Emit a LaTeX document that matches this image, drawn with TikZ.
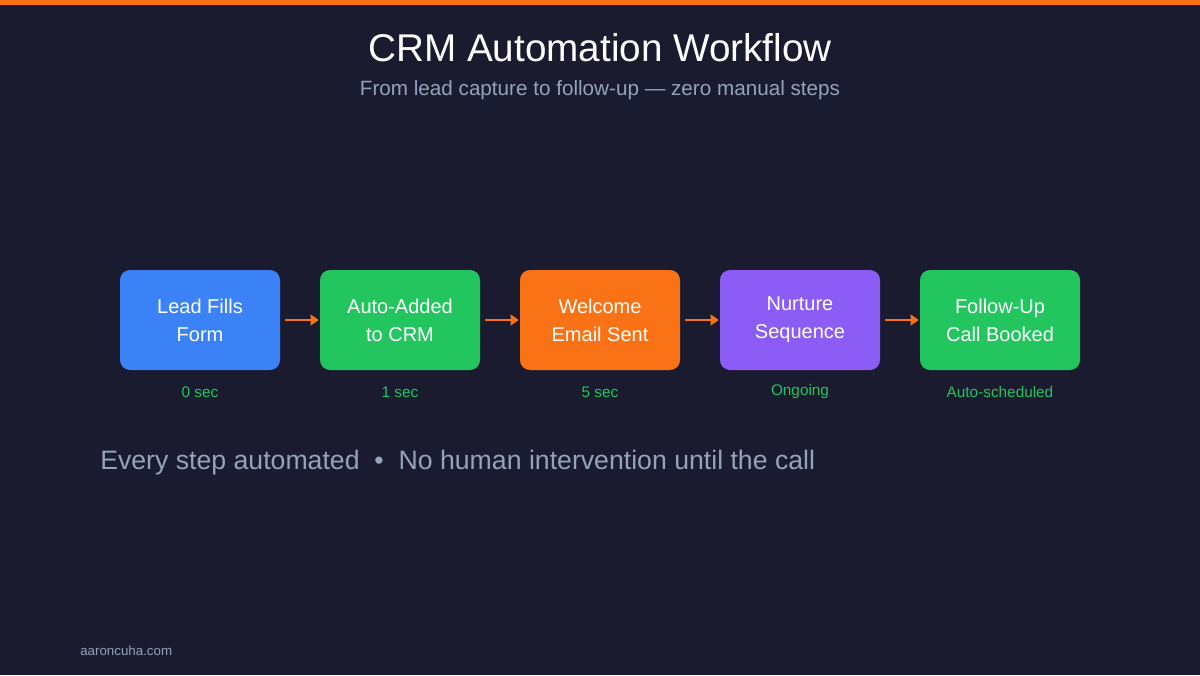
\documentclass[tikz,border=0pt]{standalone}
\usepackage{fontspec}
\setmainfont{Liberation Sans}
\usetikzlibrary{arrows.meta}
\definecolor{bg}{HTML}{1A1B2E}
\definecolor{org}{HTML}{F97316}
\definecolor{blu}{HTML}{3B82F6}
\definecolor{grn}{HTML}{22C55E}
\definecolor{pur}{HTML}{8B5CF6}
\definecolor{sub}{HTML}{94A3B8}
\begin{document}
\begin{tikzpicture}[x=0.75pt,y=-0.75pt,
  box/.style={rounded corners=7.5pt,minimum width=120pt,minimum height=75pt,inner sep=0pt,align=center,text=white,font=\fontsize{15}{21}\selectfont},
  tm/.style={text=grn,font=\fontsize{11.5}{13}\selectfont},
  arr/.style={org,line width=1.8pt,-{Triangle[length=6pt,width=8pt]}}]
\fill[bg] (0,0) rectangle (1200,675);
\fill[org] (0,0) rectangle (1200,5);
\node[text=white,font=\fontsize{29}{34}\selectfont] (title) at (600,48) {CRM Automation Workflow};
\node[text=sub,font=\fontsize{15.5}{18}\selectfont] (subt) at (600,90) {From lead capture to follow-up — zero manual steps};
\node[box,fill=blu] (b1) at (200,320) {Lead Fills\\Form};
\node[box,fill=grn] (b2) at (400,320) {Auto-Added\\to CRM};
\node[box,fill=org] (b3) at (600,320) {Welcome\\Email Sent};
\node[box,fill=pur] (b4) at (800,320) {Nurture\\Sequence};
\node[box,fill=grn] (b5) at (1000,320) {Follow-Up\\Call Booked};
\foreach \a/\b in {b1/b2,b2/b3,b3/b4,b4/b5}{
  \draw[arr] ([xshift=3.75pt]\a.east) -- ([xshift=-0.75pt]\b.west);}
\node[tm] (t1) at (200,392) {0 sec};
\node[tm] (t2) at (400,392) {1 sec};
\node[tm] (t3) at (600,392) {5 sec};
\node[tm] (t4) at (800,392) {Ongoing};
\node[tm] (t5) at (1000,392) {Auto-scheduled};
\node[text=sub,anchor=west,inner sep=0pt,font=\fontsize{20}{24}\selectfont] (note) at (100,463) {Every step automated \ • \ No human intervention until the call};
\node[text=sub,anchor=west,inner sep=0pt,font=\fontsize{10}{12}\selectfont] (foot) at (80,651) {aaroncuha.com};
\end{tikzpicture}
\end{document}
